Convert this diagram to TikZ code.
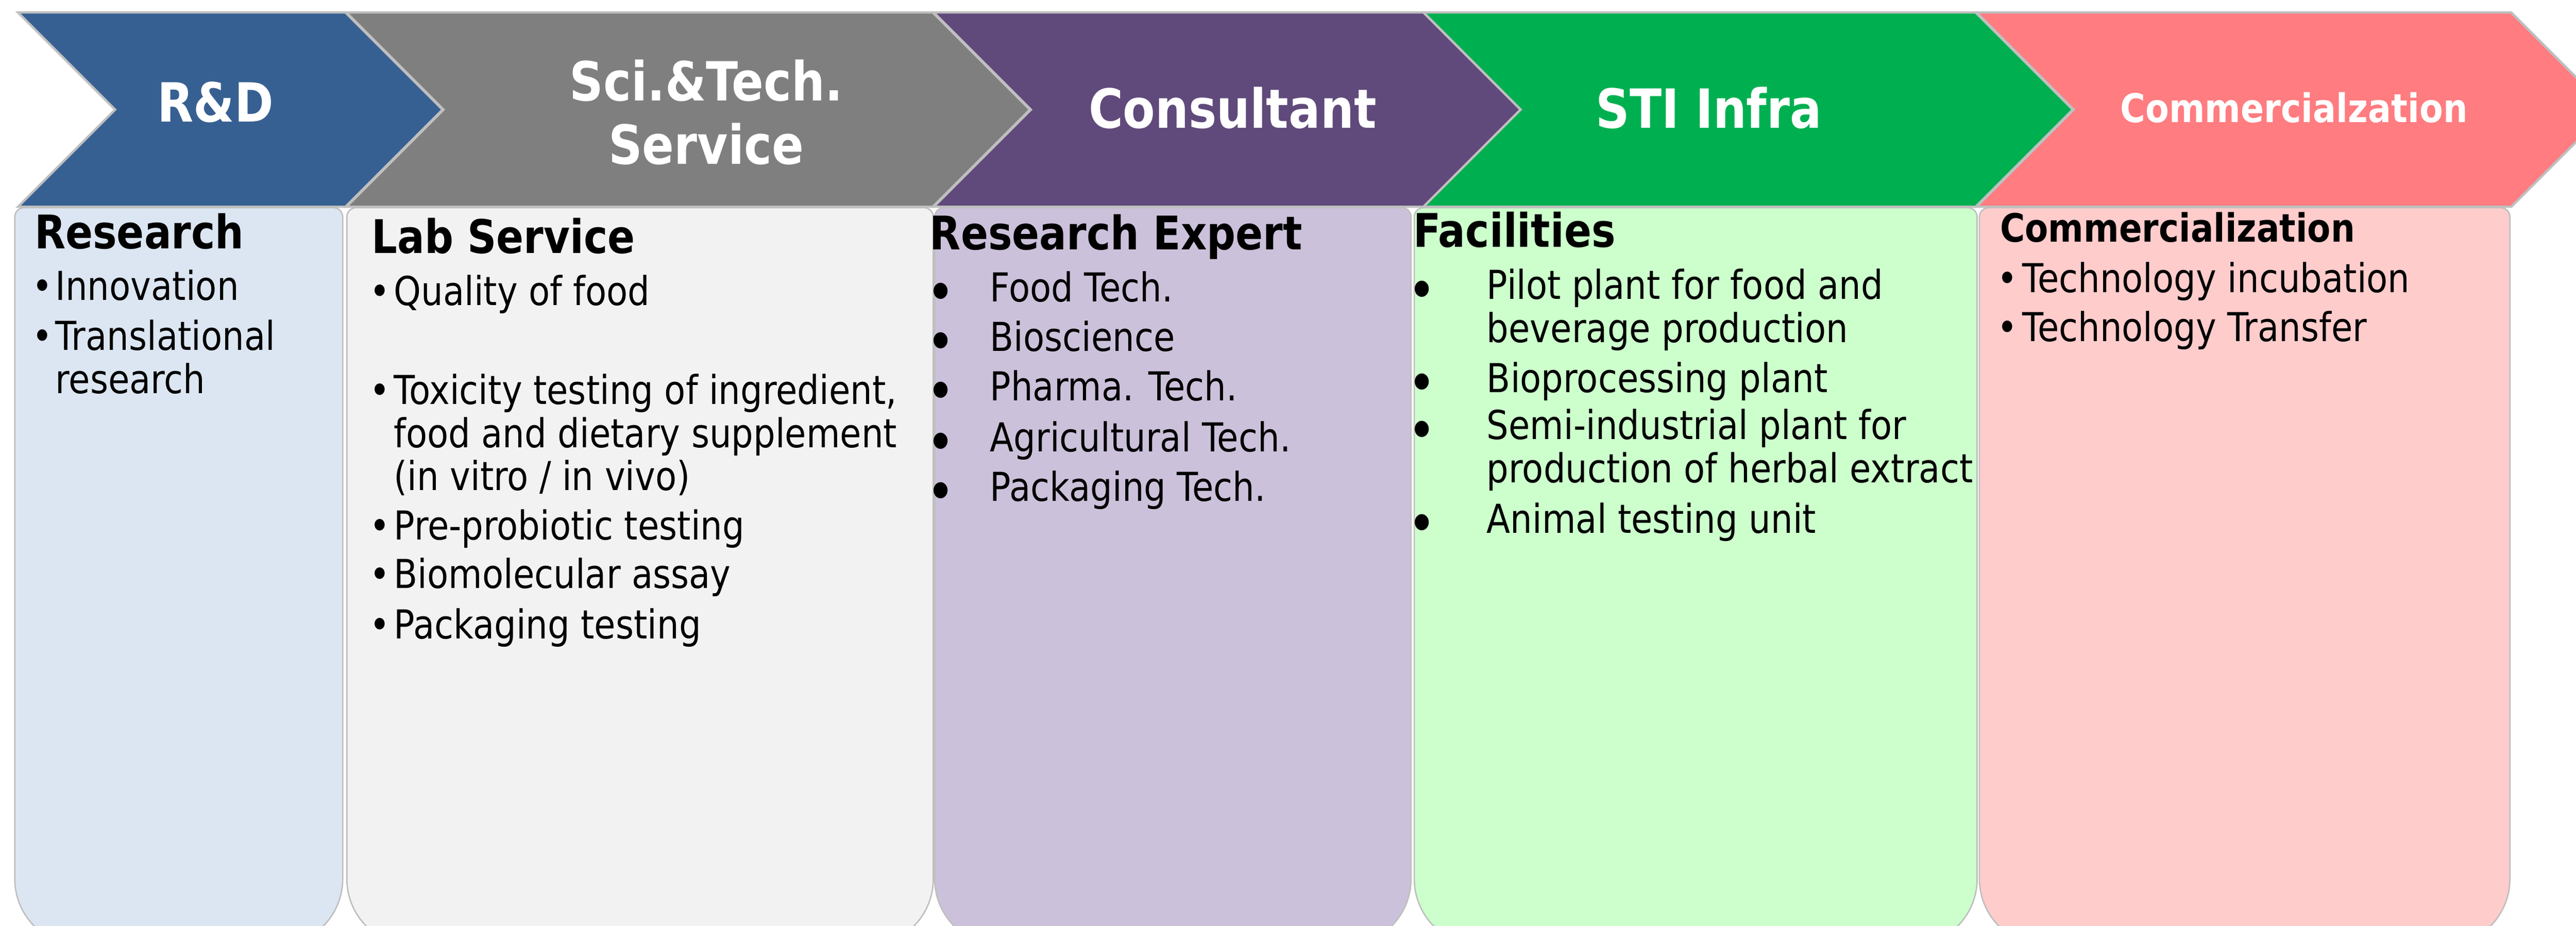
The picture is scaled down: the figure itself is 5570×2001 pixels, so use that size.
\documentclass[tikz,border=0pt]{standalone}
\usepackage{fontspec}
\setmainfont{DejaVu Sans}[FakeStretch=0.87]

\definecolor{edgegray}{HTML}{BFBFBF}
\definecolor{rdblue}{HTML}{376092}
\definecolor{scigray}{HTML}{7F7F7F}
\definecolor{conspurple}{HTML}{604A7B}
\definecolor{stigreen}{HTML}{00B050}
\definecolor{commred}{HTML}{FF7C80}
\definecolor{rdpale}{HTML}{DCE6F2}
\definecolor{scipale}{HTML}{F2F2F2}
\definecolor{conspale}{HTML}{CCC1DA}
\definecolor{stipale}{HTML}{CCFFCC}
\definecolor{commpale}{HTML}{FFCCCC}

\tikzset{
  chev/.style={draw=edgegray, line width=0.05cm, line join=miter},
  pane/.style={draw=edgegray, line width=0.03cm},
  hd/.style={anchor=base, inner sep=0pt, text=white, font=\bfseries\fontsize{33.2}{39}\selectfont},
  boxhd/.style={anchor=base west, inner sep=0pt, font=\bfseries\fontsize{28.5}{32}\selectfont},
  item/.style={anchor=base west, inner sep=0pt, font=\fontsize{24.5}{26.2}\selectfont},
}
\newcommand{\bitem}[2]{\makebox[#1][l]{\textbullet}\begin{tabular}[t]{@{}l@{}}#2\end{tabular}}
\newcommand{\bigbitem}[2]{\makebox[#1][l]{\raisebox{3pt}{\fontsize{13}{13}\selectfont\char"25CF}}\begin{tabular}[t]{@{}l@{}}#2\end{tabular}}

\begin{document}
\begin{tikzpicture}[x=0.01cm, y=-0.01cm]
    \useasboundingbox (0,0) rectangle (5570,2001);
    \clip (0,0) rectangle (5570,2001);
    % lower panes
    \draw[pane, fill=rdpale] (32,1200) [rounded corners=0.2cm] -- (32,449) -- (741,449) -- (741,1200) [rounded corners=1.45cm] -- (741,2045) -- (32,2045) -- cycle;
    \draw[pane, fill=scipale] (750,1200) [rounded corners=0.2cm] -- (750,449) -- (2018,449) -- (2018,1200) [rounded corners=1.45cm] -- (2018,2045) -- (750,2045) -- cycle;
    \draw[pane, fill=conspale] (2021,1200) [rounded corners=0.2cm] -- (2021,449) -- (3051,449) -- (3051,1200) [rounded corners=1.45cm] -- (3051,2045) -- (2021,2045) -- cycle;
    \draw[pane, fill=stipale] (3058,1200) [rounded corners=0.2cm] -- (3058,449) -- (4275,449) -- (4275,1200) [rounded corners=1.45cm] -- (4275,2045) -- (3058,2045) -- cycle;
    \draw[pane, fill=commpale] (4280,1200) [rounded corners=0.2cm] -- (4280,449) -- (5427,449) -- (5427,1200) [rounded corners=1.45cm] -- (5427,2045) -- (4280,2045) -- cycle;
    % chevrons
    \draw[chev, fill=rdblue] (39,27) -- (747,27) -- (957,237) -- (747,447) -- (39,447) -- (249,237) -- cycle;
    \draw[chev, fill=scigray] (749,27) -- (2017,27) -- (2227,237) -- (2017,447) -- (749,447) -- (959,237) -- cycle;
    \draw[chev, fill=conspurple] (2019,27) -- (3078,27) -- (3288,237) -- (3078,447) -- (2019,447) -- (2229,237) -- cycle;
    \draw[chev, fill=stigreen] (3078,27) -- (4272,27) -- (4482,237) -- (4272,447) -- (3078,447) -- (3288,237) -- cycle;
    \draw[chev, fill=commred] (4274,27) -- (5430,27) -- (5640,237) -- (5430,447) -- (4274,447) -- (4484,237) -- cycle;
    \node[hd] (rd) at (466,263) {R\&D};
    \node[hd] (sci) at (1527,218) {\begin{tabular}[t]{@{}c@{}}Sci.\&Tech.\\Service\end{tabular}};
    \node[hd] (cons) at (2665,277) {Consultant};
    \node[hd] (sti) at (3695,277) {STI Infra};
    \node[hd, font=\bfseries\fontsize{24.3}{28}\selectfont] (comm) at (4960,265) {Commercialzation};
    % R&D
    \node[boxhd] (hres) at (74,537) {Research};
    \node[item] (inno) at (69,649) {\bitem{0.5cm}{Innovation}};
    \node[item] (transl) at (69,757) {\bitem{0.5cm}{Translational\\research}};
    % Sci.&Tech.
    \node[boxhd] (hlab) at (803,548) {Lab Service};
    \node[item] (quality) at (799,660) {\bitem{0.52cm}{Quality of food}};
    \node[item] (toxic) at (799,874) {\bitem{0.52cm}{Toxicity testing of ingredient,\\food and dietary supplement\\(in vitro / in vivo)}};
    \node[item] (prepro) at (799,1167) {\bitem{0.52cm}{Pre-probiotic testing}};
    \node[item] (biomol) at (799,1272) {\bitem{0.52cm}{Biomolecular assay}};
    \node[item] (packtest) at (799,1381) {\bitem{0.52cm}{Packaging testing}};
    % Consultant
    \node[boxhd] (hexp) at (2010,540) {Research Expert};
    \node[item] (foodt) at (2016,652) {\bigbitem{1.24cm}{Food Tech.}};
    \node[item] (biosci) at (2016,759) {\bigbitem{1.24cm}{Bioscience}};
    \node[item] (pharma) at (2016,866) {\bigbitem{1.24cm}{Pharma. Tech.}};
    \node[item] (agri) at (2016,976) {\bigbitem{1.24cm}{Agricultural Tech.}};
    \node[item] (packt) at (2016,1083) {\bigbitem{1.24cm}{Packaging Tech.}};
    % STI Infra
    \node[boxhd] (hfac) at (3055,534) {Facilities};
    \node[item] (pilot) at (3057,647) {\bigbitem{1.57cm}{Pilot plant for food and\\beverage production}};
    \node[item] (bioproc) at (3057,848) {\bigbitem{1.57cm}{Bioprocessing plant}};
    \node[item] (semi) at (3057,950) {\bigbitem{1.57cm}{Semi-industrial plant for\\production of herbal extract}};
    \node[item] (animal) at (3057,1152) {\bigbitem{1.57cm}{Animal testing unit}};
    % Commercialzation
    \node[boxhd, font=\bfseries\fontsize{24}{28}\selectfont] (hcom) at (4324,523) {Commercialization};
    \node[item] (incub) at (4318,632) {\bitem{0.54cm}{Technology incubation}};
    \node[item] (transfer) at (4318,738) {\bitem{0.54cm}{Technology Transfer}};
\end{tikzpicture}
\end{document}
